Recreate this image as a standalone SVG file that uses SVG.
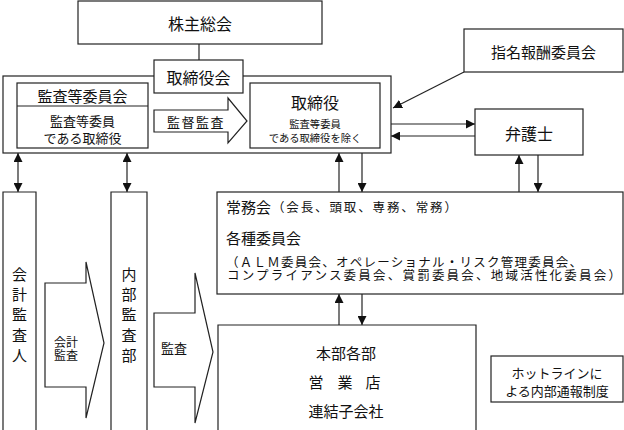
<svg xmlns="http://www.w3.org/2000/svg" width="624" height="430" viewBox="0 0 624 430">
<style>
.b{fill:#fff;stroke:#222;stroke-width:1.2}
.o{fill:none;stroke:#222;stroke-width:1.2}
.l{fill:none;stroke:#222;stroke-width:1.2}
text{font-family:"Noto Sans CJK JP","Noto Sans",sans-serif;fill:#111;text-anchor:middle;dominant-baseline:central}
.t16{font-size:16px}
.t15{font-size:15px}
.t13{font-size:13px}
.t12{font-size:12px}
.t10{font-size:10.3px}
.s{font-size:12.5px;text-anchor:start}
</style>
<defs>
<marker id="ah" viewBox="0 0 10 10" refX="10" refY="5" markerWidth="9" markerHeight="9" markerUnits="userSpaceOnUse" orient="auto-start-reverse">
<path d="M0,0 L10,5 L0,10 z" fill="#111"/>
</marker>
</defs>
<g id="connectors">
<line class="l" x1="199" y1="44" x2="199" y2="60"/>
<line class="l" x1="464" y1="72" x2="393" y2="108" marker-end="url(#ah)"/>
<line class="l" x1="391" y1="124" x2="475" y2="124" marker-end="url(#ah)"/>
<line class="l" x1="475" y1="136" x2="391" y2="136" marker-end="url(#ah)"/>
<line class="l" x1="339" y1="192" x2="339" y2="153" marker-end="url(#ah)"/>
<line class="l" x1="362" y1="153" x2="362" y2="192" marker-end="url(#ah)"/>
<line class="l" x1="519" y1="192" x2="519" y2="155" marker-end="url(#ah)"/>
<line class="l" x1="538" y1="155" x2="538" y2="192" marker-end="url(#ah)"/>
<line class="l" x1="339" y1="325" x2="339" y2="294" marker-end="url(#ah)"/>
<line class="l" x1="362" y1="294" x2="362" y2="325" marker-end="url(#ah)"/>
<line class="l" x1="18" y1="153" x2="18" y2="192" marker-start="url(#ah)" marker-end="url(#ah)"/>
<line class="l" x1="127" y1="153" x2="127" y2="192" marker-start="url(#ah)" marker-end="url(#ah)"/>
</g>
<g id="shareholders">
<rect class="b" x="78" y="1" width="244" height="43"/>
<text class="t16" x="200" y="23">株主総会</text>
</g>
<g id="board">
<rect class="o" x="3" y="76" width="388" height="77"/>
<rect class="b" x="154" y="60" width="89" height="33"/>
<text class="t16" x="198.5" y="77">取締役会</text>
</g>
<g id="audit-committee">
<rect class="b" x="17" y="83" width="131" height="65"/>
<line class="l" x1="17" y1="106" x2="148" y2="106"/>
<text class="t15" x="82.5" y="95">監査等委員会</text>
<text class="t13" x="82.5" y="120">監査等委員</text>
<text class="t13" x="82.5" y="137">である取締役</text>
</g>
<g id="supervision-arrow">
<path class="b" d="M154,110 L228,110 L228,98 L247,121 L228,143 L228,132 L154,132 z"/>
<text class="t13" x="196" y="121" letter-spacing="1.5">監督監査</text>
</g>
<g id="directors">
<rect class="b" x="250" y="83" width="130" height="65"/>
<text class="t16" x="315" y="102">取締役</text>
<text class="t10" x="315" y="123">監査等委員</text>
<text class="t10" x="315" y="137">である取締役を除く</text>
</g>
<g id="nomination">
<rect class="b" x="464" y="29" width="159" height="43"/>
<text class="t15" x="543.5" y="51">指名報酬委員会</text>
</g>
<g id="lawyer">
<rect class="b" x="475" y="109" width="108" height="46"/>
<text class="t16" x="529" y="133">弁護士</text>
</g>
<g id="executive">
<rect class="b" x="217" y="192" width="406" height="102"/>
<text class="t15" x="226" y="206" style="text-anchor:start">常務会</text>
<text class="s" x="272" y="206" textLength="185" lengthAdjust="spacing">（会長、頭取、専務、常務）</text>
<text class="t15" x="226" y="237" style="text-anchor:start">各種委員会</text>
<text class="s" x="226" y="261" textLength="356" lengthAdjust="spacing">（ＡＬＭ委員会、オペレーショナル・リスク管理委員会、</text>
<text class="s" x="227" y="274" textLength="394" lengthAdjust="spacing">コンプライアンス委員会、賞罰委員会、地域活性化委員会）</text>
</g>
<g id="branches">
<path class="o" d="M218,431 L218,325 L476,325 L476,431"/>
<text class="t15" x="346" y="352">本部各部</text>
<text class="t15" x="316 345 373" y="381">営業店</text>
<text class="t15" x="346" y="410">連結子会社</text>
</g>
<g id="hotline">
<rect class="b" x="491" y="356" width="132" height="46"/>
<text class="t13" x="557" y="372">ホットラインに</text>
<text class="t13" x="557" y="390">よる内部通報制度</text>
</g>
<g id="external-auditor">
<path class="o" d="M3,431 L3,192 L36,192 L36,431"/>
<text class="t15" x="19.5" y="273">会</text>
<text class="t15" x="19.5" y="293">計</text>
<text class="t15" x="19.5" y="313">監</text>
<text class="t15" x="19.5" y="334">査</text>
<text class="t15" x="19.5" y="354">人</text>
</g>
<g id="accounting-audit-arrow">
<path class="b" d="M45,283 L86,283 L86,262 L104,343 L86,418 L86,387 L45,387 z"/>
<text class="t12" x="66" y="341">会計</text>
<text class="t12" x="66" y="354">監査</text>
</g>
<g id="internal-audit">
<path class="o" d="M111,431 L111,192 L147,192 L147,431"/>
<text class="t15" x="129" y="273">内</text>
<text class="t15" x="129" y="293">部</text>
<text class="t15" x="129" y="313">監</text>
<text class="t15" x="129" y="334">査</text>
<text class="t15" x="129" y="354">部</text>
</g>
<g id="audit-arrow">
<path class="b" d="M154,313 L195,313 L195,273 L213,352 L195,423 L195,387 L154,387 z"/>
<text class="t13" x="174" y="347">監査</text>
</g>
</svg>
